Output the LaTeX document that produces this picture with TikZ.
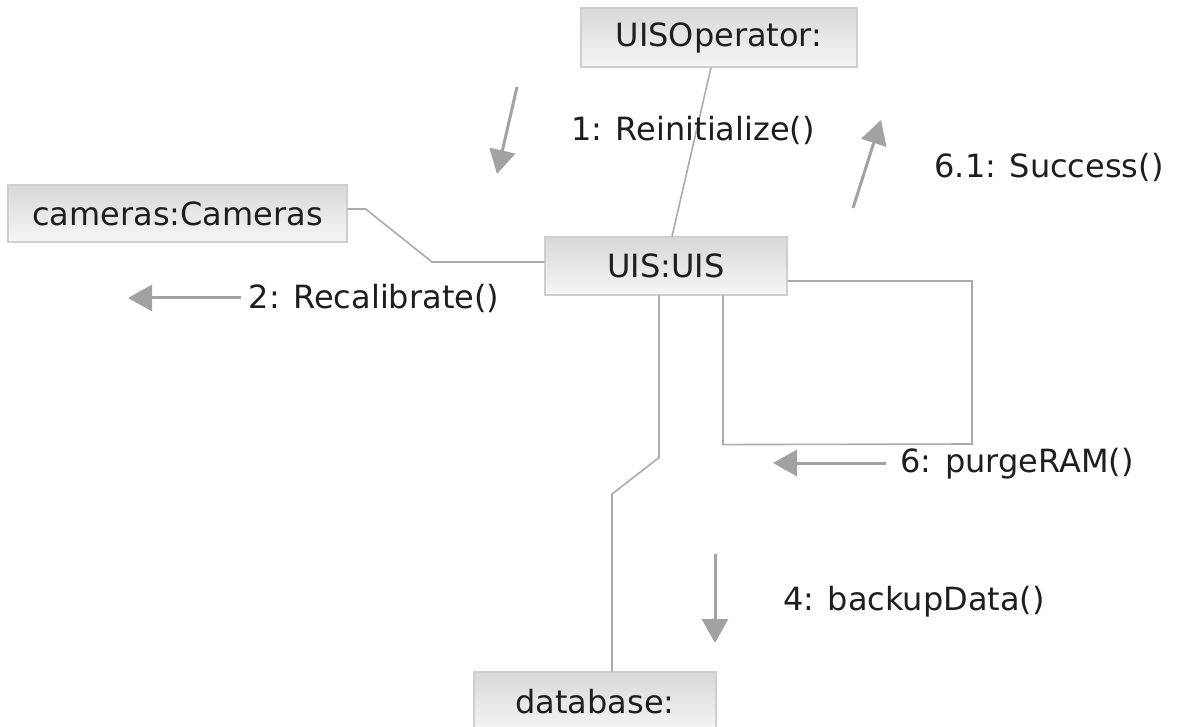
\documentclass[tikz,border=0pt]{standalone}
\usepackage{fontspec}
\setmainfont{DejaVu Sans}
\usetikzlibrary{arrows.meta,calc}
\definecolor{boxtop}{HTML}{D8D8D8}
\definecolor{boxbot}{HTML}{F6F6F6}
\definecolor{boxline}{HTML}{CFCFCF}
\definecolor{linkgray}{HTML}{ABABAB}
\definecolor{msggray}{HTML}{A2A2A2}
\definecolor{ink}{HTML}{1E1E1E}
\tikzset{
  obj/.style={draw=boxline, line width=1.2pt, top color=boxtop, bottom color=boxbot,
    inner sep=0pt, text=ink, font=\fontsize{32}{38}\selectfont},
  link/.style={draw=linkgray, line width=1.6pt},
  msg/.style={draw=msggray, line width=3pt, -{Triangle[width=26pt,length=24pt]}, fill=msggray},
  lbl/.style={text=ink, inner sep=0pt, font=\fontsize{32}{38}\selectfont}
}
\begin{document}
\begin{tikzpicture}[x=1pt,y=-1pt]
  \clip (0,0) rectangle (1179,727);
  \fill[white] (0,0) rectangle (1179,727);

  % objects
  \node[obj, minimum width=276pt, minimum height=59pt] (op)  at (719,37.5)  {UISOperator:};
  \node[obj, minimum width=339pt, minimum height=57pt] (cam) at (177.5,213.5) {cameras:Cameras};
  \node[obj, minimum width=242pt, minimum height=58pt] (uis) at (666,266)  {UIS:UIS};
  \node[obj, minimum width=242pt, minimum height=60pt] (db)  at (595,702)  {database:};

  % links
  \draw[link] ([xshift=-8pt]op.south) -- ([xshift=6pt]uis.north);
  \draw[link] ([yshift=4.5pt]cam.east) -- ++(18,0) -- (432,262) -- ([yshift=4pt]uis.west);
  \draw[link] ([xshift=-7pt]uis.south) -- ++(0,162) -- (612,494) -- ([xshift=17pt]db.north);
  \draw[link] ([xshift=57pt]uis.south) -- ++(0,149) -- (972,444) -- (972,281) -- ([yshift=-15pt]uis.east);

  % messages
  \coordinate (m1a) at (517,87);  \coordinate (m1b) at (497,174);
  \coordinate (m61a) at (853,208); \coordinate (m61b) at (881,120);
  \coordinate (m2a) at (241,298); \coordinate (m2b) at (128,298);
  \coordinate (m6a) at (886,463); \coordinate (m6b) at (773,463);
  \coordinate (m4a) at (715,554); \coordinate (m4b) at (715,643);
  \draw[msg] (m1a) -- (m1b);
  \draw[msg] (m61a) -- (m61b);
  \draw[msg] (m2a) -- (m2b);
  \draw[msg] (m6a) -- (m6b);
  \draw[msg] (m4a) -- (m4b);

  % message labels
  \node[lbl] (l1)  at (693,130)  {1: Reinitialize()};
  \node[lbl] (l61) at (1049,167) {6.1: Success()};
  \node[lbl] (l2)  at (374,298)  {2: Recalibrate()};
  \node[lbl] (l6)  at (1017,464) {6: purgeRAM()};
  \node[lbl] (l4)  at (914,602)  {4: backupData()};
\end{tikzpicture}
\end{document}
